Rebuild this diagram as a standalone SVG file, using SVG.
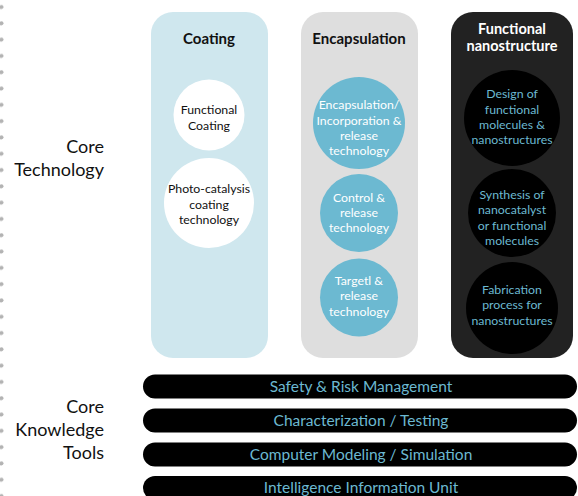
<svg xmlns="http://www.w3.org/2000/svg" width="578" height="496" viewBox="0 0 578 496">
<defs>
<pattern id="dots" x="0" y="-1" width="4" height="16.3" patternUnits="userSpaceOnUse">
<circle cx="1.5" cy="8" r="2" fill="#b3b3b3"/>
</pattern>
</defs>
<style>
text{font-family:Lato,"Open Sans","Liberation Sans",sans-serif;text-anchor:middle}
.side{font-size:18px;fill:#111;text-anchor:end}
.hd{font-size:15px;font-weight:bold}
.hd2{font-size:14.5px;font-weight:bold}
.c{font-size:12.3px}
.dk{fill:#111}
.wt{fill:#fff}
.bl{fill:#6cb9d1}
.bar{font-size:15.5px;fill:#6cb9d1}
</style>
<rect x="0" y="0" width="4" height="496" fill="url(#dots)"/>
<g id="label-core-technology">
<text class="side" x="104" y="153">Core</text>
<text class="side" x="104" y="176">Technology</text>
</g>
<g id="label-core-knowledge">
<text class="side" x="104" y="413">Core</text>
<text class="side" x="104" y="436">Knowledge</text>
<text class="side" x="104" y="459">Tools</text>
</g>
<g id="coating">
<rect x="151" y="12" width="117" height="346" rx="22" fill="#cfe7ee"/>
<text class="hd dk" x="209" y="43.5">Coating</text>
</g>
<g id="functional-coating">
<circle cx="209" cy="115" r="35.5" fill="#fff"/>
<text class="c dk" x="209" y="114">Functional</text>
<text class="c dk" x="209" y="130">Coating</text>
</g>
<g id="photo-catalysis">
<circle cx="209" cy="203" r="45" fill="#fff"/>
<text class="c dk" x="209" y="193">Photo-catalysis</text>
<text class="c dk" x="209" y="208.5">coating</text>
<text class="c dk" x="209" y="224">technology</text>
</g>
<g id="encapsulation">
<rect x="301" y="12" width="117" height="346" rx="22" fill="#dedede"/>
<text class="hd dk" x="359" y="43.5">Encapsulation</text>
</g>
<g id="encap-incorporation">
<circle cx="359" cy="123" r="46" fill="#6cb9d1"/>
<text class="c wt" x="359" y="109">Encapsulation/</text>
<text class="c wt" x="359" y="125">Incorporation &amp;</text>
<text class="c wt" x="359" y="140">release</text>
<text class="c wt" x="359" y="155">technology</text>
</g>
<g id="control-release">
<circle cx="359" cy="213" r="39" fill="#6cb9d1"/>
<text class="c wt" x="359" y="202">Control &amp;</text>
<text class="c wt" x="359" y="217">release</text>
<text class="c wt" x="359" y="232">technology</text>
</g>
<g id="target-release">
<circle cx="359" cy="297.5" r="39" fill="#6cb9d1"/>
<text class="c wt" x="359" y="285">Targetl &amp;</text>
<text class="c wt" x="359" y="300">release</text>
<text class="c wt" x="359" y="316">technology</text>
</g>
<g id="functional-nanostructure">
<rect x="451" y="12" width="122" height="346" rx="22" fill="#222"/>
<text class="hd2 wt" x="512" y="33.5">Functional</text>
<text class="hd2 wt" x="512" y="51">nanostructure</text>
</g>
<g id="design">
<circle cx="512" cy="118" r="48" fill="#000"/>
<text class="c bl" x="512" y="98">Design of</text>
<text class="c bl" x="512" y="114">functional</text>
<text class="c bl" x="512" y="129">molecules &amp;</text>
<text class="c bl" x="512" y="144">nanostructures</text>
</g>
<g id="synthesis">
<circle cx="512" cy="213" r="44" fill="#000"/>
<text class="c bl" x="512" y="199">Synthesis of</text>
<text class="c bl" x="512" y="214">nanocatalyst</text>
<text class="c bl" x="512" y="230">or functional</text>
<text class="c bl" x="512" y="245">molecules</text>
</g>
<g id="fabrication">
<circle cx="512" cy="308" r="46" fill="#000"/>
<text class="c bl" x="512" y="294">Fabrication</text>
<text class="c bl" x="512" y="309">process for</text>
<text class="c bl" x="512" y="325">nanostructures</text>
</g>
<g id="safety">
<rect x="143" y="374.5" width="434" height="24" rx="12" fill="#000"/>
<text class="bar" x="361" y="391.5">Safety &amp; Risk Management</text>
</g>
<g id="characterization">
<rect x="143" y="408.5" width="434" height="24" rx="12" fill="#000"/>
<text class="bar" x="361" y="425.5">Characterization / Testing</text>
</g>
<g id="modeling">
<rect x="143" y="442.5" width="434" height="24" rx="12" fill="#000"/>
<text class="bar" x="361" y="459.5">Computer Modeling / Simulation</text>
</g>
<g id="intelligence">
<rect x="143" y="476" width="434" height="24" rx="12" fill="#000"/>
<text class="bar" x="361" y="493">Intelligence Information Unit</text>
</g>
<g id="connectors"/>
</svg>
